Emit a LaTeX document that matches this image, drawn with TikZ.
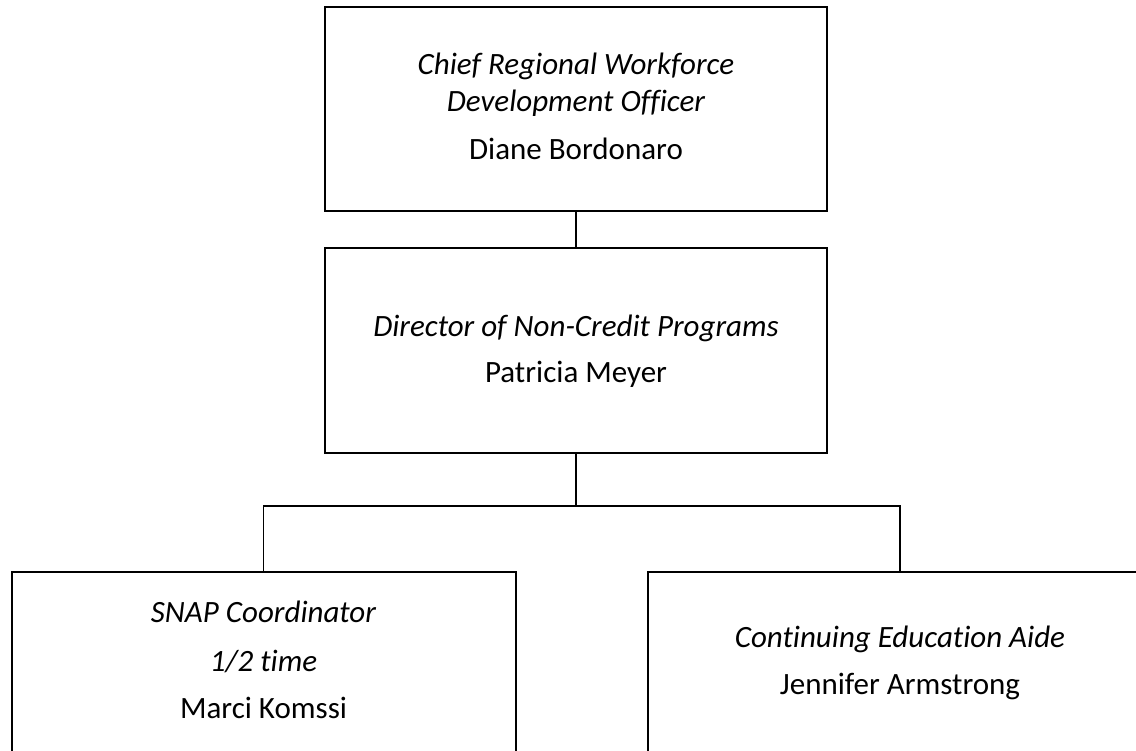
\documentclass[tikz,border=0pt]{standalone}
\usepackage{fontspec}
\setmainfont{Carlito}[RawFeature={-liga}]
\begin{document}
\begin{tikzpicture}[x=1pt,y=-1pt,
  box/.style={draw=black, line width=2pt, inner sep=0pt, rectangle},
  lbl/.style={anchor=base, inner sep=0pt, font=\fontsize{31}{37}\selectfont},
  ttl/.style={lbl, font=\fontsize{31}{37}\selectfont\itshape},
  conn/.style={draw=black, line width=1.8pt}]
\useasboundingbox (0,0) rectangle (1136,751);
\fill[white] (0,0) rectangle (1136,751);
\clip (0,0) rectangle (1136,751);
\node[box, minimum width=502pt, minimum height=204pt] (top) at (576,109) {};
\node[box, minimum width=502pt, minimum height=205pt] (mid) at (576,350.5) {};
\node[box, minimum width=504pt, minimum height=400pt] (left) at (263.5,772) {};
\node[box, minimum width=504pt, minimum height=400pt] (right) at (900,772) {};
\coordinate (bar) at (576,506);
\draw[conn] (top.south) -- (mid.north);
\draw[conn] (mid.south) -- (bar);
\draw[conn] (left.north) |- (bar) -| (right.north);
\node[ttl] (t1) at (576,75) {Chief Regional Workforce};
\node[ttl] (t2) at (576,112) {Development Officer};
\node[lbl] (t3) at (576,160) {Diane Bordonaro};
\node[ttl] (m1) at (576,337) {Director of Non-Credit Programs};
\node[lbl] (m2) at (576,383) {Patricia Meyer};
\node[ttl] (l1) at (263.5,622) {SNAP Coordinator};
\node[ttl] (l2) at (263.5,671) {1/2 time};
\node[lbl] (l3) at (263.5,718) {Marci Komssi};
\node[ttl] (r1) at (900,647) {Continuing Education Aide};
\node[lbl] (r2) at (900,694) {Jennifer Armstrong};
\end{tikzpicture}
\end{document}
